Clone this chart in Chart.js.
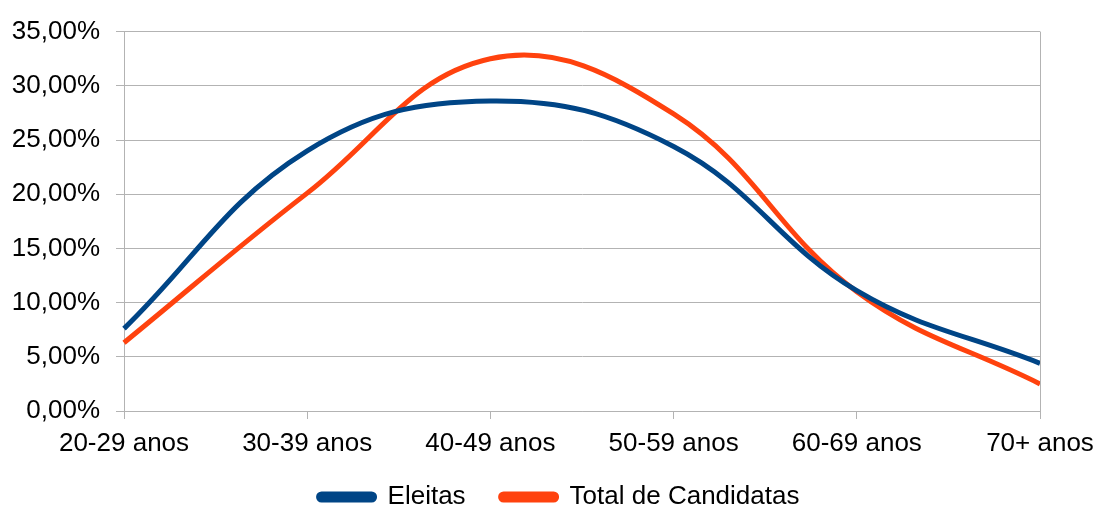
<!DOCTYPE html>
<html>
<head>
<meta charset="utf-8">
<script src="https://cdn.jsdelivr.net/npm/chart.js@4/dist/chart.umd.min.js"></script>
<style>
  html, body { margin: 0; padding: 0; background: #fff; }
  #wrap { width: 1098px; height: 509px; }
</style>
</head>
<body>
<div id="wrap"><canvas id="chart"></canvas></div>
<script>
const ageGroups = ["20-29 anos", "30-39 anos", "40-49 anos", "50-59 anos", "60-69 anos", "70+ anos"];
const eleitas = [7.6, 24.0, 28.6, 24.4, 11.1, 4.4];
const totalCandidatas = [6.3, 20.1, 32.5, 27.4, 11.0, 2.5];

const gridColor = "#b3b3b3";
const fontFamily = "'Liberation Sans', Arial, sans-serif";

// right border of the plot area
const rightBorder = {
  id: "rightBorder",
  afterDraw(chart) {
    const { ctx, chartArea } = chart;
    ctx.save();
    ctx.strokeStyle = gridColor;
    ctx.lineWidth = 1;
    ctx.beginPath();
    ctx.moveTo(chartArea.right + 0.5, chartArea.top);
    ctx.lineTo(chartArea.right + 0.5, chartArea.bottom + 8);
    ctx.stroke();
    ctx.restore();
  },
};

// fixed legend band, nudged up and right a little
const legendPlace = {
  id: "legendPlace",
  beforeLayout(chart) {
    const legend = chart.legend;
    if (legend && !legend._fixed) {
      const fit = legend.fit;
      legend.fit = function () {
        fit.call(this);
        this.height = 48;
      };
      legend._fixed = true;
    }
  },
  afterLayout(chart) {
    const legend = chart.legend;
    legend.top -= 12;
    legend.left += 10;
    legend.right += 10;
  },
};

new Chart(document.getElementById("chart"), {
  type: "line",
  data: {
    labels: ageGroups,
    datasets: [
      {
        label: "Eleitas",
        data: eleitas,
        borderColor: "#004586",
        backgroundColor: "#004586",
        borderWidth: 5,
        pointRadius: 0,
        tension: 0.4,
      },
      {
        label: "Total de Candidatas",
        data: totalCandidatas,
        borderColor: "#ff420e",
        backgroundColor: "#ff420e",
        borderWidth: 5,
        pointRadius: 0,
        tension: 0.4,
      },
    ],
  },
  options: {
    responsive: true,
    maintainAspectRatio: false,
    animation: false,
    layout: { padding: { top: 28, right: 0, left: 0, bottom: 0 } },
    plugins: {
      tooltip: { enabled: false },
      legend: {
        position: "bottom",
        labels: {
          boxWidth: 56,
          boxHeight: 6,
          useBorderRadius: true,
          borderRadius: 3,
          padding: 35,
          color: "#000",
          font: { family: fontFamily, size: 26 },
        },
      },
    },
    scales: {
      x: {
        offset: false,
        afterFit: (s) => {
          s.height = 50;
          s.paddingRight = 58;
        },
        grid: {
          drawOnChartArea: false,
          color: gridColor,
          tickLength: 8,
        },
        border: { color: gridColor },
        ticks: {
          color: "#000",
          maxRotation: 0,
          padding: 9,
          font: { family: fontFamily, size: 26 },
        },
      },
      y: {
        min: 0,
        max: 35,
        afterFit: (s) => { s.width = 124; },
        grid: { color: gridColor, tickLength: 8 },
        border: { color: gridColor },
        ticks: {
          stepSize: 5,
          color: "#000",
          padding: 16,
          font: { family: fontFamily, size: 26 },
          callback: (v) => v.toFixed(2).replace(".", ",") + "%",
        },
      },
    },
  },
  plugins: [rightBorder, legendPlace],
});
</script>
</body>
</html>
